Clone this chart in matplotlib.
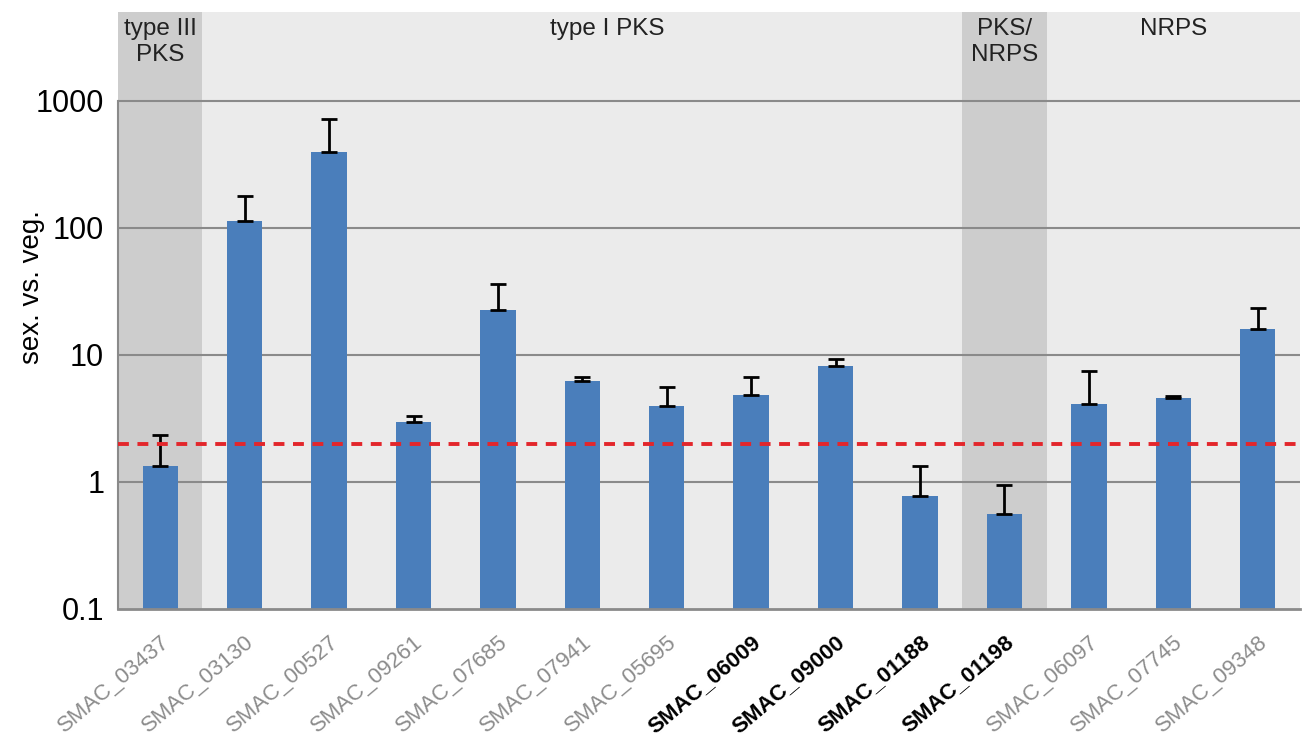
import numpy as np
import matplotlib.pyplot as plt

plt.rcParams['font.family'] = ['Liberation Sans', 'DejaVu Sans']

genes = ["SMAC_03437", "SMAC_03130", "SMAC_00527", "SMAC_09261", "SMAC_07685",
         "SMAC_07941", "SMAC_05695", "SMAC_06009", "SMAC_09000", "SMAC_01188",
         "SMAC_01198", "SMAC_06097", "SMAC_07745", "SMAC_09348"]
valor = [1.33, 113, 395, 2.99, 22.5, 6.2, 3.95, 4.8, 8.25, 0.77, 0.56, 4.1, 4.58, 16.0]
err_sup = [2.34, 180, 716, 3.3, 36.5, 6.7, 5.55, 6.7, 9.3, 1.33, 0.95, 7.45, 4.75, 23.5]
negrita = ["SMAC_06009", "SMAC_09000", "SMAC_01188", "SMAC_01198"]

# grupos: (nombre, inicio, fin, oscuro, centro del texto)
grupos = [("type III\nPKS", -0.5, 0.5, True, 0),
          ("type I PKS", 0.5, 9.5, False, 5.3),
          ("PKS/\nNRPS", 9.5, 10.5, True, 10),
          ("NRPS", 10.5, 13.5, False, 12)]
umbral = 2

#%% figura
fig = plt.figure(figsize=(13.03, 7.5), dpi=100)
ax = fig.add_axes([0.0906, 0.188, 0.907, 0.796])
ax.set_yscale("log")
ax.set_ylim(0.1, 10 ** 3.70)
ax.set_xlim(-0.5, 13.5)

for nombre, ini, fin, oscuro, cx in grupos:
    ax.axvspan(ini, fin, color="#cdcdcd" if oscuro else "#ebebeb", zorder=0, lw=0)
    ax.text(cx, 0.99, nombre, transform=ax.get_xaxis_transform(), ha="center", va="top",
            fontsize=17.5, color="#222222", linespacing=1.22)

for yv in [1, 10, 100, 1000]:
    ax.axhline(yv, color="#8a8a8a", lw=1.5, zorder=1)

x = np.arange(len(genes))
v = np.array(valor)
e = np.array(err_sup) - v
ax.bar(x, v, width=0.42, color="#4a7ebb", zorder=2,
       yerr=[np.zeros_like(e), e], error_kw=dict(ecolor="black", elinewidth=2, capsize=5.5, capthick=2))

ax.axhline(umbral, color="#e3262b", lw=2.8, dashes=(2.8, 2.2), zorder=3)

ax.set_yticks([0.1, 1, 10, 100, 1000])
ax.set_yticklabels(["0.1", "1", "10", "100", "1000"], fontsize=22)
ax.yaxis.set_minor_locator(plt.NullLocator())
ax.tick_params(axis="y", length=0, pad=10)
ax.set_ylabel("sex. vs. veg.", fontsize=20)
ax.yaxis.set_label_coords(-0.062, 0.54)

ax.set_xticks(x)
ax.set_xticklabels(genes, rotation=40, ha="right", va="top", rotation_mode="anchor", fontsize=16)
ax.tick_params(axis="x", length=0, pad=16)
for lab in ax.get_xticklabels():
    if lab.get_text() in negrita:
        lab.set_fontweight("bold")
        lab.set_color("black")
    else:
        lab.set_color("#8c8c8c")

for s in ["top", "right"]:
    ax.spines[s].set_visible(False)
ax.spines["bottom"].set_color("#8a8a8a")
ax.spines["bottom"].set_linewidth(2)
ax.spines["left"].set_color("#8a8a8a")
ax.spines["left"].set_linewidth(1.5)
ax.spines["left"].set_bounds(0.1, 1000)

fig.savefig("out.png", dpi=100)
